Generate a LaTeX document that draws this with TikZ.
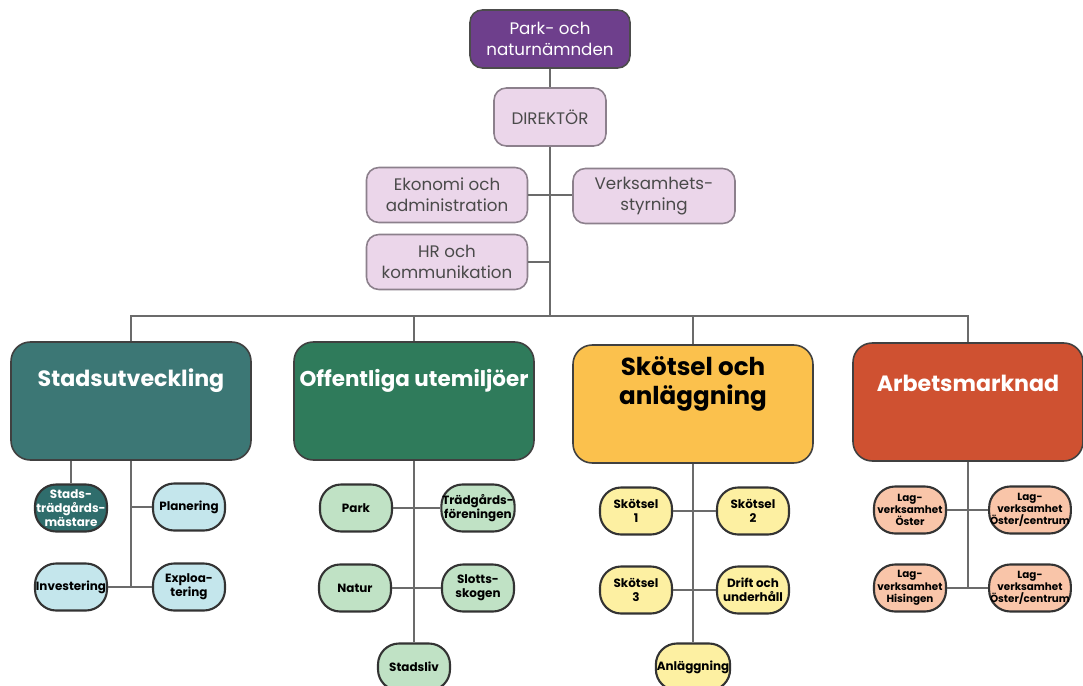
\documentclass[tikz,border=0pt]{standalone}
\usepackage{fontspec}
\setmainfont{Poppins}
\usepackage{tikz}
\usetikzlibrary{positioning}

\definecolor{namnd}{HTML}{6E3F8C}
\definecolor{lila}{HTML}{EBD6EA}
\definecolor{lilaedge}{HTML}{8C808C}
\definecolor{teal}{HTML}{3C7775}
\definecolor{tealdark}{HTML}{2F6D6C}
\definecolor{blue}{HTML}{C4E6EC}
\definecolor{green}{HTML}{2F7B5B}
\definecolor{lightgreen}{HTML}{C0E2C5}
\definecolor{yellow}{HTML}{FBC14D}
\definecolor{paleyellow}{HTML}{FDF0A2}
\definecolor{rust}{HTML}{CF5131}
\definecolor{salmon}{HTML}{F9C5A9}
\definecolor{linegray}{HTML}{6B6B6B}
\definecolor{txtgray}{HTML}{4A4A4A}

\newcommand\pxu{0.02cm}

\begin{document}
\begin{tikzpicture}[x=0.02cm,y=-0.02cm]
  \tikzstyle{link}=[draw=linegray, line width=1.1pt]
  \tikzstyle{staff}=[draw=lilaedge, line width=0.9pt, fill=lila, text=txtgray, rounded corners=7pt,
    align=center, minimum width=161*\pxu, minimum height=55*\pxu, inner sep=1pt,
    font=\fontsize{9.5}{12}\selectfont]
  \tikzstyle{area}=[draw=black!75, line width=0.9pt, rounded corners=11pt,
    minimum width=240*\pxu, minimum height=118*\pxu]
  \tikzstyle{areatitle}=[align=center, inner sep=0pt, font=\bfseries\fontsize{12.6}{16}\selectfont]
  \tikzstyle{unit}=[draw=black!80, line width=1.2pt, rounded corners=12pt, align=center,
    minimum width=72*\pxu, minimum height=47*\pxu, inner sep=0.5pt,
    font=\bfseries\fontsize{6.8}{8}\selectfont]
  \useasboundingbox (0,0) rectangle (1083,686);

  % ledning
  \node[staff, draw=black!70, fill=namnd, text=white, minimum width=160*\pxu, minimum height=58*\pxu] (nmd) at (550,39) {Park- och\\naturnämnden};
  \node[staff, minimum width=112*\pxu, minimum height=58*\pxu] (dir) at (550,117) {DIREKTÖR};
  \node[staff] (eko)  at (447,195) {Ekonomi och\\administration};
  \node[staff, minimum width=162*\pxu] (verk) at (654,196) {Verksamhets-\\styrning};
  \node[staff] (hr)   at (447,262) {HR och\\kommunikation};
  \coordinate (bus) at (550,316);

  % avdelningar
  \node[area, fill=teal]   (stad) at (131,401) {};
  \node[area, fill=green]  (offe) at (414,401) {};
  \node[area, fill=yellow] (skot) at (693,404) {};
  \node[area, fill=rust, minimum width=230*\pxu] (arb) at (968,402) {};
  \node[areatitle, text=white] (stadT) at (131,381) {Stadsutveckling};
  \node[areatitle, text=white, font=\bfseries\fontsize{12.2}{14}\selectfont] (offeT) at (414,381) {Offentliga utemiljöer};
  \node[areatitle, text=black, font=\bfseries\fontsize{14}{16.5}\selectfont] (skotT) at (693,384) {Skötsel och\\anläggning};
  \node[areatitle, text=white] (arbT)  at (968,383) {Arbetsmarknad};

  % stadsutveckling
  \node[unit, fill=tealdark, text=white] (stm) at (71,508) {Stads-\\trädgårds-\\mästare};
  \node[unit, fill=blue] (plan) at (189,507) {Planering};
  \node[unit, fill=blue] (inv)  at (71,587)  {Investering};
  \node[unit, fill=blue] (expl) at (189,587) {Exploa-\\tering};

  % offentliga utemiljöer
  \node[unit, fill=lightgreen] (park)  at (356,508) {Park};
  \node[unit, fill=lightgreen] (trad)  at (478,508) {Trädgårds-\\föreningen};
  \node[unit, fill=lightgreen] (natur) at (355,588) {Natur};
  \node[unit, fill=lightgreen] (slott) at (478,588) {Slotts-\\skogen};
  \node[unit, fill=lightgreen] (liv)   at (414,667) {Stadsliv};

  % skötsel och anläggning
  \node[unit, fill=paleyellow] (sk1)   at (636,511) {Skötsel\\1};
  \node[unit, fill=paleyellow] (sk2)   at (753,511) {Skötsel\\2};
  \node[unit, fill=paleyellow] (sk3)   at (636,590) {Skötsel\\3};
  \node[unit, fill=paleyellow] (drift) at (753,590) {Drift och\\underhåll};
  \node[unit, fill=paleyellow] (anl)   at (693,667) {Anläggning};

  % arbetsmarknad
  \node[unit, fill=salmon, font=\bfseries\fontsize{5.9}{7}\selectfont] (lag1) at (910,510) {Lag-\\verksamhet\\Öster};
  \node[unit, fill=salmon, font=\bfseries\fontsize{5.9}{7}\selectfont] (lag2) at (1030,510) {Lag-\\verksamhet\\Öster/centrum};
  \node[unit, fill=salmon, font=\bfseries\fontsize{5.9}{7}\selectfont] (lag3) at (910,588) {Lag-\\verksamhet\\Hisingen};
  \node[unit, fill=salmon, font=\bfseries\fontsize{5.9}{7}\selectfont] (lag4) at (1030,588) {Lag-\\verksamhet\\Öster/centrum};

  \path[link]
    (nmd) edge (dir)
    (dir.south) edge (bus)
    (hr.east) edge (hr.east -| bus);
  \draw[link] (eko.east) -- (eko.east -| verk.west);
  \draw[link] (stad.north) |- (bus) -| (arb.north);
  \draw[link] (offe.north) -- (offe.north |- bus);
  \draw[link] (skot.north) -- (skot.north |- bus);

  \draw[link] (stad.south) -- (stad.south |- inv);
  \draw[link] (stm.north) -- (stm.north |- stad.south);
  \draw[link] (plan.west) -- (plan.west -| stad.south);
  \draw[link] (inv.east) -- (expl.west);

  \draw[link] (offe.south) -- (liv.north);
  \path[link] (park) edge (trad) (natur) edge (slott);

  \draw[link] (skot.south) -- (anl.north);
  \path[link] (sk1) edge (sk2) (sk3) edge (drift);

  \draw[link] (arb.south) -- (arb.south |- lag3);
  \path[link] (lag1) edge (lag2) (lag3) edge (lag4);
\end{tikzpicture}
\end{document}
